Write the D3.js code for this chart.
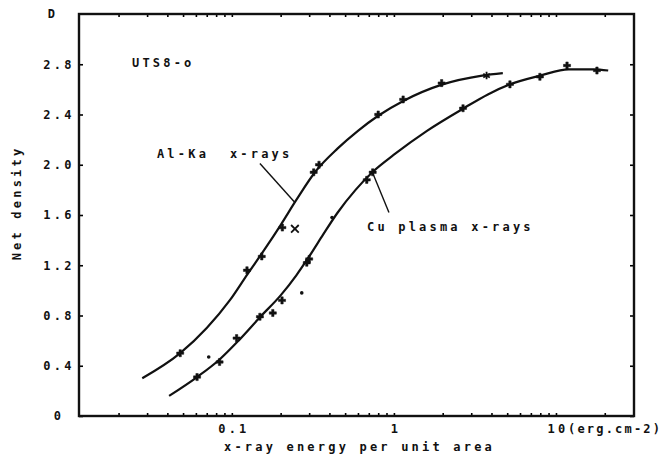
<!DOCTYPE html>
<html>
<head>
<meta charset="utf-8">
<script src="https://cdn.jsdelivr.net/npm/d3@7"></script>
<style>
  body { margin: 0; background: #fff; }
  text { font-family: "DejaVu Sans Mono", monospace; font-weight: bold; fill: #111; }
</style>
</head>
<body>
<div id="chart"></div>
<script>
// Al-Ka x-rays curve (energy, net density)
const alX = [0.028, 0.048, 0.07, 0.097, 0.125, 0.16, 0.20, 0.25, 0.33, 0.45, 0.60, 0.80, 1.15, 2.0, 3.5, 4.7];
const alD = [0.30, 0.50, 0.70, 0.92, 1.13, 1.33, 1.52, 1.72, 1.95, 2.13, 2.27, 2.39, 2.51, 2.64, 2.71, 2.73];
// Cu plasma x-rays curve
const cuX = [0.041, 0.061, 0.084, 0.11, 0.15, 0.20, 0.25, 0.30, 0.36, 0.45, 0.58, 0.75, 1.0, 1.6, 2.7, 3.8, 5.2, 8.0, 12, 17, 21];
const cuD = [0.16, 0.31, 0.45, 0.60, 0.79, 0.96, 1.12, 1.27, 1.43, 1.62, 1.80, 1.95, 2.08, 2.27, 2.45, 2.56, 2.64, 2.71, 2.76, 2.76, 2.75];

// measured points
const alMarkX = [0.048, 0.124, 0.153, 0.205, 0.245, 0.32, 0.345, 0.80, 1.14, 1.97, 3.73];
const alMarkD = [0.50, 1.16, 1.27, 1.50, 1.49, 1.94, 2.00, 2.40, 2.52, 2.65, 2.71];
const alMarkType = ["+", "+", "+", "+", "x", "+", "+", "+", "+", "+", "*"];
const cuMarkX = [0.061, 0.084, 0.107, 0.149, 0.179, 0.204, 0.29, 0.30, 0.68, 0.74, 2.67, 5.2, 7.96, 11.7, 17.9];
const cuMarkD = [0.31, 0.43, 0.62, 0.79, 0.82, 0.92, 1.22, 1.25, 1.88, 1.94, 2.45, 2.64, 2.70, 2.79, 2.75];
const dotX = [0.072, 0.27, 0.415];
const dotD = [0.47, 0.98, 1.58];

const yTicks = [0, 0.4, 0.8, 1.2, 1.6, 2.0, 2.4, 2.8];
const xLabelTicks = [0.1, 1, 10];
const xMinorTicks = [0.02, 0.03, 0.04, 0.05, 0.06, 0.07, 0.08, 0.09,
  0.1, 0.2, 0.3, 0.4, 0.5, 0.6, 0.7, 0.8, 0.9,
  1, 2, 3, 4, 5, 6, 7, 8, 9, 10, 20];

const title = 'UTS8-o';
const yTitle = 'Net density';
const xTitle = 'x-ray energy per unit area';
const xUnit = '(erg.cm-2)';

const fullWidth = 670;
const fullHeight = 459;
const margin = { top: 14, right: 36, bottom: 43, left: 79 };
const width = fullWidth - margin.left - margin.right;
const height = fullHeight - margin.top - margin.bottom;

const svg = d3.select('#chart')
  .append('svg')
  .attr('width', fullWidth)
  .attr('height', fullHeight);

const x = d3.scaleLog()
  .domain([0.0114, 30.3])
  .range([margin.left, margin.left + width]);

const y = d3.scaleLinear()
  .domain([0, 3.2])
  .range([margin.top + height, margin.top]);

const txt = (sel) => sel
  .attr('font-size', 12)
  .attr('letter-spacing', 3.2)
  .attr('font-weight', 'bold');

// bottom + top axes, ticks pointing inwards
const xAxis = d3.axisBottom(x)
  .tickValues(xMinorTicks)
  .tickSize(-3)
  .tickPadding(8)
  .tickFormat(d => xLabelTicks.includes(d) ? String(d) : '');

svg.append('g')
  .attr('transform', `translate(0, ${margin.top + height})`)
  .call(xAxis)
  .call(g => g.select('.domain').remove())
  .call(g => g.selectAll('line').attr('stroke-width', 1.6))
  .call(g => g.selectAll('text').call(txt).attr('fill', '#111').attr('dx', 1.5));

svg.append('g')
  .attr('transform', `translate(0, ${margin.top})`)
  .call(d3.axisTop(x).tickValues(xMinorTicks).tickSize(-3).tickFormat(''))
  .call(g => g.select('.domain').remove())
  .call(g => g.selectAll('line').attr('stroke-width', 1.6));

// left + right axes
svg.append('g')
  .attr('transform', `translate(${margin.left}, 0)`)
  .call(d3.axisLeft(y).tickValues(yTicks).tickSize(-4)
    .tickFormat(d => d === 0 ? '0' : d3.format('.1f')(d)))
  .call(g => g.select('.domain').remove())
  .call(g => g.selectAll('line').attr('stroke-width', 1.6))
  .call(g => g.selectAll('text').call(txt)
    .attr('fill', '#111')
    .attr('text-anchor', 'middle')
    .attr('x', -20));

svg.append('g')
  .attr('transform', `translate(${margin.left + width}, 0)`)
  .call(d3.axisRight(y).tickValues(yTicks).tickSize(-4).tickFormat(''))
  .call(g => g.select('.domain').remove())
  .call(g => g.selectAll('line').attr('stroke-width', 1.6));

// frame
svg.append('rect')
  .attr('x', margin.left)
  .attr('y', margin.top)
  .attr('width', width)
  .attr('height', height)
  .attr('fill', 'none')
  .attr('stroke', '#111')
  .attr('stroke-width', 2.4);

// unit after the "10" tick label
svg.append('text')
  .attr('x', x(10) + 12)
  .attr('y', margin.top + height + 17)
  .call(txt)
  .attr('letter-spacing', 2.2)
  .text(xUnit);

svg.append('text')
  .attr('x', 53)
  .attr('y', margin.top + 4)
  .attr('text-anchor', 'middle')
  .call(txt)
  .text('D');

svg.append('text')
  .attr('x', (margin.left + width / 2) + 3)
  .attr('y', fullHeight - 8)
  .attr('text-anchor', 'middle')
  .call(txt)
  .text(xTitle);

svg.append('text')
  .attr('transform', `translate(21, 203) rotate(-90)`)
  .attr('text-anchor', 'middle')
  .call(txt)
  .text(yTitle);

// curves
const line = d3.line()
  .x(d => x(d[0]))
  .y(d => y(d[1]))
  .curve(d3.curveMonotoneX);

[[alX, alD], [cuX, cuD]].forEach(([xs, ds]) => {
  svg.append('path')
    .datum(xs.map((v, i) => [v, ds[i]]))
    .attr('d', line)
    .attr('fill', 'none')
    .attr('stroke', '#111')
    .attr('stroke-width', 2.2);
});

// markers
const symbols = { '+': d3.symbolCross, 'x': d3.symbolX, '*': d3.symbolAsterisk };
const marks = alMarkX.map((v, i) => ({ x: v, d: alMarkD[i], t: alMarkType[i] }))
  .concat(cuMarkX.map((v, i) => ({ x: v, d: cuMarkD[i], t: '+' })));

svg.append('g')
  .selectAll('path')
  .data(marks)
  .join('path')
  .attr('transform', d => `translate(${x(d.x)}, ${y(d.d)})`)
  .attr('d', d => d3.symbol(symbols[d.t], d.t === '+' ? 28 : 40)())
  .attr('fill', '#111')
  .attr('stroke', '#111')
  .attr('stroke-width', d => d.t === '+' ? 0.5 : 1.8);

svg.append('g')
  .selectAll('circle')
  .data(dotX.map((v, i) => [v, dotD[i]]))
  .join('circle')
  .attr('cx', d => x(d[0]))
  .attr('cy', d => y(d[1]))
  .attr('r', 1.8)
  .attr('fill', '#111');

// annotations
svg.append('text')
  .attr('x', x(0.0242))
  .attr('y', y(2.78))
  .call(txt)
  .text(title);

svg.append('text')
  .attr('x', x(0.0345))
  .attr('y', y(2.054))
  .call(txt)
  .attr('xml:space', 'preserve')
  .style('white-space', 'pre')
  .text('Al-Ka  x-rays');

svg.append('line')
  .attr('x1', x(0.149)).attr('y1', y(2.01))
  .attr('x2', x(0.245)).attr('y2', y(1.70))
  .attr('stroke', '#111')
  .attr('stroke-width', 1.4);

svg.append('text')
  .attr('x', x(0.682))
  .attr('y', y(1.473))
  .call(txt)
  .text('Cu plasma x-rays');

svg.append('line')
  .attr('x1', x(0.742)).attr('y1', y(1.93))
  .attr('x2', x(0.932)).attr('y2', y(1.62))
  .attr('stroke', '#111')
  .attr('stroke-width', 1.4);
</script>
</body>
</html>
